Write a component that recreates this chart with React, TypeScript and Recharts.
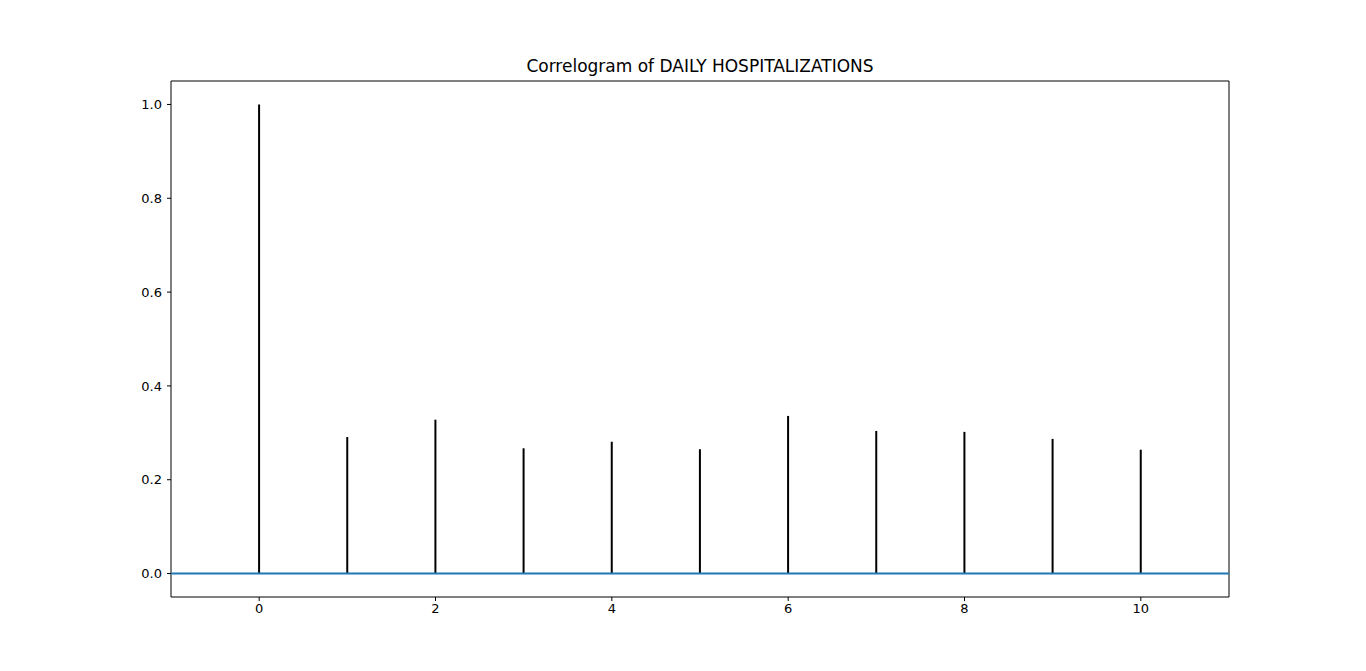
import { Bar, ComposedChart, ReferenceArea, ReferenceLine, XAxis, YAxis } from "recharts";

const lags = [0, 1, 2, 3, 4, 5, 6, 7, 8, 9, 10];
const acfValues = [1.0, 0.291, 0.328, 0.267, 0.281, 0.265, 0.336, 0.304, 0.302, 0.287, 0.264];
const xTicks = [0, 2, 4, 6, 8, 10];
const yTicks = [0, 0.2, 0.4, 0.6, 0.8, 1.0];

const data = lags.map((lag, i) => ({ lag, acf: acfValues[i] }));

const font = "'DejaVu Sans', sans-serif";

export default function App() {
  return (
    <div style={{ position: "absolute", left: 0, top: 0, width: 1366, height: 671, background: "#fff", fontFamily: font }}>
      <div
        style={{
          position: "absolute",
          left: 171,
          width: 1058,
          top: 56,
          textAlign: "center",
          fontSize: 17,
          color: "#000",
        }}
      >
        Correlogram of DAILY HOSPITALIZATIONS
      </div>
      <ComposedChart width={1366} height={671} data={data} margin={{ top: 81, right: 137, bottom: 44, left: 121 }}>
        <XAxis
          dataKey="lag"
          type="number"
          domain={[-1, 11]}
          ticks={xTicks}
          height={30}
          axisLine={false}
          tickSize={4}
          tickMargin={3}
          tickLine={{ stroke: "#000" }}
          tick={{ fill: "#000", fontSize: 13, fontFamily: font }}
          allowDataOverflow
        />
        <YAxis
          type="number"
          domain={[-0.05, 1.05]}
          ticks={yTicks}
          width={50}
          axisLine={false}
          tickSize={4}
          tickMargin={5}
          tickLine={{ stroke: "#000" }}
          tickFormatter={(v: number) => v.toFixed(1)}
          tick={{ fill: "#000", fontSize: 13, fontFamily: font }}
          allowDataOverflow
        />
        <Bar dataKey="acf" fill="#000" barSize={2} isAnimationActive={false} />
        <ReferenceLine y={0} stroke="#1f77b4" strokeWidth={2} />
        <ReferenceArea x1={-1} x2={11} y1={-0.05} y2={1.05} fill="none" stroke="#000" strokeWidth={1} />
      </ComposedChart>
    </div>
  );
}
